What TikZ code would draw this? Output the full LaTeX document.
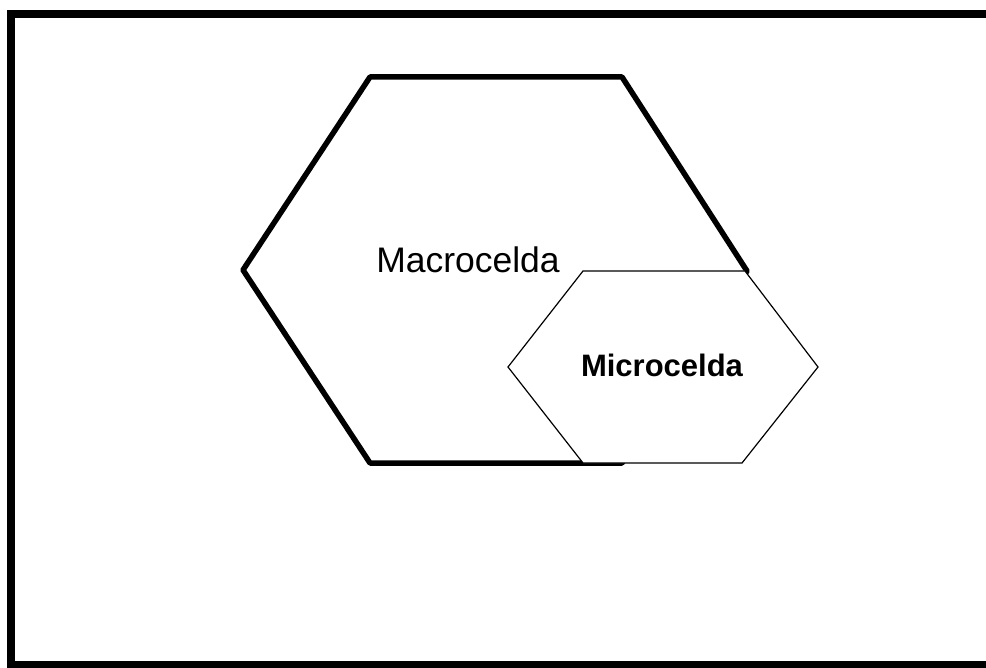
\documentclass[tikz,border=0pt]{standalone}
\usepackage{fontspec}
\setmainfont{Liberation Sans}
\begin{document}
\begin{tikzpicture}[x=1pt,y=-1pt,
  frame/.style={line width=8pt},
  macro/.style={line width=5.5pt,line join=round},
  micro/.style={line width=1.2pt,fill=white,line join=miter},
  lbl/.style={inner sep=0pt,anchor=base}]
\useasboundingbox (0,0) rectangle (986,668);
\fill[white] (0,0) rectangle (986,668);
\draw[frame] (11,14) rectangle (990,665);
\draw[macro] (370,77) coordinate (m1) -- (622,77) coordinate (m2) -- (747,271) coordinate (m3)
  -- (622,463) coordinate (m4) -- (370,463) coordinate (m5) -- (243,270) coordinate (m6) -- cycle;
\draw[micro] (583,271) coordinate (u1) -- (745,271) coordinate (u2) -- (818,367) coordinate (u3)
  -- (742,463) coordinate (u4) -- (583,463) coordinate (u5) -- (508,367) coordinate (u6) -- cycle;
\node[lbl,font=\fontsize{35.5}{40}\selectfont] (mac) at (468,273) {Macrocelda};
\node[lbl,font=\fontsize{31}{36}\selectfont\bfseries] (mic) at (662,377) {Microcelda};
\end{tikzpicture}
\end{document}
